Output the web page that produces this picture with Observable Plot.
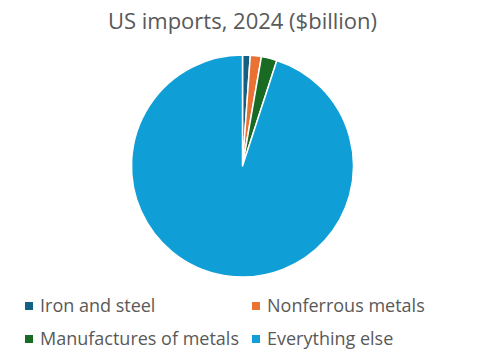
<!DOCTYPE html>
<html>
<head>
<meta charset="utf-8">
<script src="https://cdn.jsdelivr.net/npm/d3@7"></script>
<script src="https://cdn.jsdelivr.net/npm/@observablehq/plot@0.6"></script>
<style>
  html, body { margin: 0; padding: 0; background: #fff; }
  body { width: 485px; height: 360px; position: relative; overflow: hidden; font-family: "Open Sans", sans-serif; color: #595959; }
  #title { position: absolute; left: 0; width: 485px; top: 5px; text-align: center; font-size: 22px; line-height: 30px; }
  #chart { position: absolute; left: 0; top: 40px; }
  .lg { position: absolute; font-size: 18px; line-height: 24px; white-space: nowrap; }
  .lg i { display: inline-block; width: 8px; height: 8px; margin-right: 7px; vertical-align: 2px; }
</style>
</head>
<body>
<div id="title">US imports, 2024 ($billion)</div>
<div id="chart"></div>
<div id="legend"></div>
<script>
const categories = ["Iron and steel", "Nonferrous metals", "Manufactures of metals", "Everything else"];
const values = [37, 53, 75, 3130];
const colors = ["#156082", "#E97132", "#196B24", "#0F9ED5"];

const data = categories.map((c, i) => ({category: c, value: values[i]}));
const color = Plot.scale({color: {type: "ordinal", domain: categories, range: colors}});

const W = 485, H = 250;
const pieMark = (index, scales, vals, dims) => {
  const cx = 242.5, cy = 126, r = 111;
  const arcs = d3.pie().sort(null).value(d => d.value)(data);
  const arc = d3.arc().innerRadius(0).outerRadius(r);
  const g = d3.create("svg:g").attr("transform", `translate(${cx},${cy})`);
  g.selectAll("path").data(arcs).join("path")
    .attr("d", arc)
    .attr("fill", d => color.apply(d.data.category))
    .attr("stroke", "#fff")
    .attr("stroke-width", 1.5)
    .attr("stroke-linejoin", "round");
  return g.node();
};

const plot = Plot.plot({
  width: W,
  height: H,
  margin: 0,
  x: {axis: null},
  y: {axis: null},
  marks: [pieMark]
});
document.getElementById("chart").appendChild(plot);

const legendPos = [
  {x: 25, y: 293},
  {x: 252, y: 293},
  {x: 25, y: 326},
  {x: 252, y: 326}
];
const lg = document.getElementById("legend");
categories.forEach((c, i) => {
  const d = document.createElement("div");
  d.className = "lg";
  d.style.left = legendPos[i].x + "px";
  d.style.top = legendPos[i].y + "px";
  const sw = document.createElement("i");
  sw.style.background = color.apply(c);
  d.appendChild(sw);
  d.appendChild(document.createTextNode(c));
  lg.appendChild(d);
});
</script>
</body>
</html>
